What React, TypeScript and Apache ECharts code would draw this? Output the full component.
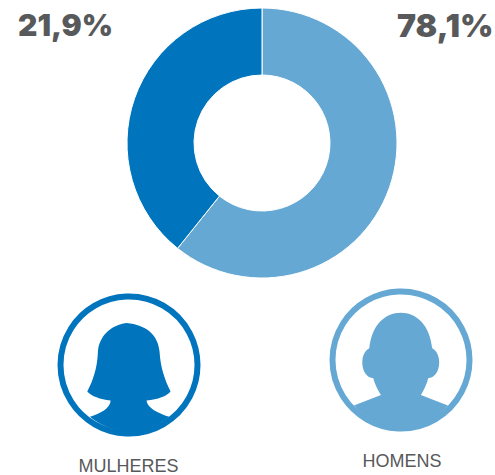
import React, { useEffect, useRef } from "react";
import * as echarts from "echarts";

const sliceNames = ["HOMENS", "MULHERES"];
const sliceValues = [60.75, 39.25];
const sliceColors = ["#66A8D4", "#0075BE"];
const percentLabels = ["21,9%", "78,1%"];
const iconLabels = ["MULHERES", "HOMENS"];

const femaleD =
  "M280 131 L290 129 C 350 135 385 165 389 215 C 392 265 405 300 422 335 C 410 350 385 358 350 362 C 352 385 385 400 418 411 A 185 185 0 0 1 180 411 C 210 402 242 385 242 362 C 210 358 185 350 172 335 C 190 300 202 265 204 215 C 208 170 240 140 280 131 Z";
const maleD =
  "M273 98 C 225 98 185 135 178 205 C 165 212 157 228 157 248 C 157 275 172 295 190 295 C 195 315 205 332 213 345 L 132 377 A 185 185 0 0 0 414 377 L 333 345 C 342 330 350 315 355 295 C 373 295 388 275 388 248 C 388 228 380 212 367 205 C 360 135 320 98 273 98 Z";

echarts.graphic.registerShape("femaleIcon", echarts.graphic.extendPath(femaleD, {}) as any);
echarts.graphic.registerShape("maleIcon", echarts.graphic.extendPath(maleD, {}) as any);

export default function App() {
  const ref = useRef<HTMLDivElement>(null);
  useEffect(() => {
    const chart = echarts.init(ref.current!, undefined, { renderer: "svg" });
    const bigFont = { fontFamily: "Inter", fontWeight: 900, fill: "#58595B" };
    const smallFont = { fontFamily: "Liberation Sans", fontSize: 18, fill: "#58595B" };
    chart.setOption({
      animation: false,
      series: [
        {
          type: "pie",
          center: [262, 143],
          radius: [68, 135],
          startAngle: 90,
          clockwise: true,
          silent: true,
          label: { show: false },
          labelLine: { show: false },
          itemStyle: { borderColor: "#ffffff", borderWidth: 1 },
          data: sliceNames.map((name, i) => ({
            name,
            value: sliceValues[i],
            itemStyle: { color: sliceColors[i] },
          })),
        },
      ],
      graphic: [
        { type: "text", x: 18, y: 10, style: { text: percentLabels[0], fontSize: 30, ...bigFont } },
        { type: "text", x: 397, y: 9, style: { text: percentLabels[1], fontSize: 32, ...bigFont } },
        { type: "circle", shape: { cx: 129, cy: 365, r: 68.5 }, style: { fill: "none", stroke: sliceColors[1], lineWidth: 6 } },
        { type: "femaleIcon", x: 30, y: 280, scaleX: 1 / 3, scaleY: 1 / 3, style: { fill: sliceColors[1] } },
        { type: "circle", shape: { cx: 401, cy: 360, r: 68.5 }, style: { fill: "none", stroke: sliceColors[0], lineWidth: 6 } },
        { type: "maleIcon", x: 310, y: 280, scaleX: 1 / 3, scaleY: 1 / 3, style: { fill: sliceColors[0] } },
        { type: "text", x: 128.5, y: 465.5, style: { text: iconLabels[0], ...smallFont, align: "center", verticalAlign: "middle" } },
        { type: "text", x: 402, y: 461, style: { text: iconLabels[1], ...smallFont, align: "center", verticalAlign: "middle" } },
      ],
    });
    return () => chart.dispose();
  }, []);
  return (
    <div
      ref={ref}
      style={{ position: "absolute", left: 0, top: 0, width: 495, height: 475, background: "#fff" }}
    />
  );
}
